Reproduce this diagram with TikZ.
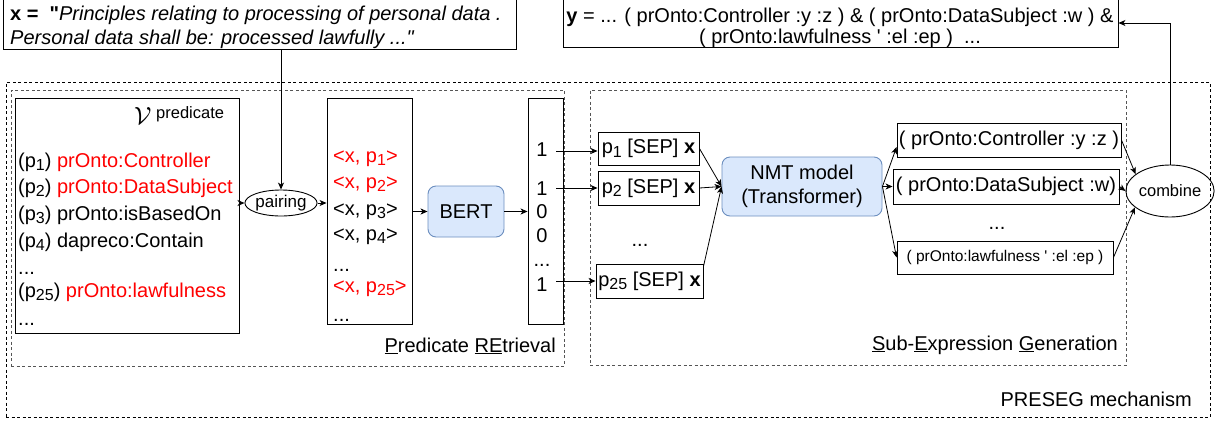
\documentclass[tikz,border=0pt]{standalone}
\usepackage{fontspec}
\setmainfont{Liberation Sans}
\usetikzlibrary{arrows.meta,shapes.geometric,calc}
\definecolor{nmtfill}{HTML}{DAE8FC}
\definecolor{nmtdraw}{HTML}{6C8EBF}
\definecolor{framegray}{HTML}{555555}
\newcommand{\psub}[1]{\raisebox{-3.5pt}{\fontsize{16}{18}\selectfont #1}}
\tikzset{
  ftw/.style={font=\fontsize{20}{24}\selectfont},
  txt/.style={ftw, inner sep=0pt, anchor=base west},
  txtc/.style={ftw, inner sep=0pt, anchor=base},
  txte/.style={ftw, inner sep=0pt, anchor=base east},
  box/.style={draw, line width=0.9pt, rectangle, inner sep=0pt, ftw},
  ell/.style={draw, line width=0.9pt, ellipse, inner sep=0pt},
  blue box/.style={draw=nmtdraw, fill=nmtfill, line width=0.9pt, rounded corners=8pt, inner sep=0pt, ftw, align=center},
  outer frame/.style={draw, line width=0.8pt, dash pattern=on 3pt off 2.5pt, inner sep=0pt},
  inner frame/.style={draw=framegray, line width=0.8pt, dash pattern=on 3pt off 2.5pt, inner sep=0pt},
  arr/.style={-{Stealth[length=7pt,width=6pt,inset=2pt]}, line width=0.8pt},
  red/.style={text=red}
}
\begin{document}
\begin{tikzpicture}[x=1pt,y=-1pt]
\useasboundingbox (0,0) rectangle (1218,421);
% frames
\node[outer frame, minimum width=1204pt, minimum height=335pt] (outer) at (608,249.5) {};
\node[inner frame, minimum width=553pt, minimum height=276pt] (leftframe) at (287.5,228) {};
\node[inner frame, minimum width=536pt, minimum height=275pt] (rightframe) at (858,227.5) {};
\node[txte] (prelab) at (556,352) {\underline{P}redicate \underline{RE}trieval};
\node[txte] (seglab) at (1118,350) {\underline{S}ub-\underline{E}xpression \underline{G}eneration};
\node[txte] (meclab) at (1192,406) {PRESEG mechanism};

% input x box
\node[box, minimum width=513pt, minimum height=50pt] (xbox) at (259.5,24) {};
\node[txt] (xl1) at (10,20) {\textbf{x =}\ \ \textbf{\textquotedbl}\textit{Principles relating to processing of personal data .}};
\node[txt] (xl2) at (10,44) {\textit{Personal data shall be: processed lawfully ...\textquotedbl}};

% output y box
\node[box, minimum width=555pt, minimum height=49pt] (ybox) at (840.5,23) {};
\node[txtc] (yl1) at (840,22) {\textbf{y} = ... ( prOnto:Controller :y :z ) \& ( prOnto:DataSubject :w ) \&};
\node[txtc] (yl2) at (840,43) {( prOnto:lawfulness \textquotesingle\ :el :ep )\ \ ...};

% predicate vocabulary box
\node[box, minimum width=224pt, minimum height=235pt] (pbox) at (127,215.5) {};
\node[inner sep=0pt, anchor=base west, font=\fontsize{24}{28}\selectfont] (vsym) at (134,124) {$\mathcal{V}$};
\node[inner sep=0pt, anchor=base west, font=\fontsize{16.5}{20}\selectfont] (vlab) at (156,118) {predicate};
\node[txt] (v1) at (18,167) {(p\psub{1}) \textcolor{red}{prOnto:Controller}};
\node[txt] (v2) at (18,193) {(p\psub{2}) \textcolor{red}{prOnto:DataSubject}};
\node[txt] (v3) at (18,220) {(p\psub{3}) prOnto:isBasedOn};
\node[txt] (v4) at (18,247) {(p\psub{4}) dapreco:Contain};
\node[txt] (v5) at (18,274) {...};
\node[txt] (v6) at (18,297) {(p\psub{25}) \textcolor{red}{prOnto:lawfulness}};
\node[txt] (v7) at (18,325) {...};

% pairing
\node[ell, minimum width=63pt, minimum height=26pt, font=\fontsize{17}{20}\selectfont] (pairing) at (281,203) {pairing};

% pairs box
\node[box, minimum width=85pt, minimum height=226pt] (pairs) at (369.5,211) {};
\node[txt, red] (q1) at (333,162) {<x, p\psub{1}>};
\node[txt, red] (q2) at (333,188) {<x, p\psub{2}>};
\node[txt] (q3) at (333,215) {<x, p\psub{3}>};
\node[txt] (q4) at (333,240) {<x, p\psub{4}>};
\node[txt] (q5) at (333,271) {...};
\node[txt, red] (q6) at (333,292) {<x, p\psub{25}>};
\node[txt] (q7) at (333,321) {...};

% BERT
\node[blue box, minimum width=76pt, minimum height=51pt] (bert) at (466,211.5) {BERT};

% score box
\node[box, minimum width=35pt, minimum height=226pt] (score) at (545.5,211) {};
\node[txtc] (n1) at (542,156) {1};
\node[txtc] (n2) at (542,195) {1};
\node[txtc] (n3) at (542,218) {0};
\node[txtc] (n4) at (542,242) {0};
\node[txtc] (n5) at (542,266) {...};
\node[txtc] (n6) at (542,291) {1};
\coordinate (s1) at (556,151);
\coordinate (s2) at (556,188);
\coordinate (s3) at (556,281);

% SEP boxes
\node[box, minimum width=101pt, minimum height=33pt] (sep1) at (648.5,148.5) {p\psub{1} [SEP] \textbf{x}};
\node[box, minimum width=101pt, minimum height=34pt] (sep2) at (648.5,188) {p\psub{2} [SEP] \textbf{x}};
\node[txtc] (sepdots) at (640,246) {...};
\node[box, minimum width=107pt, minimum height=34pt] (sep25) at (649.5,281) {p\psub{25} [SEP] \textbf{x}};

% NMT
\node[blue box, minimum width=160pt, minimum height=59pt] (nmt) at (802,186.5) {NMT model\\(Transformer)};

% output sub-expressions
\node[box, minimum width=224pt, minimum height=34pt] (o1) at (1009,140) {( prOnto:Controller :y :z )};
\node[box, minimum width=226pt, minimum height=35pt] (o2) at (1006,186.5) {( prOnto:DataSubject :w)};
\node[txtc] (odots) at (997,229) {...};
\node[box, minimum width=216pt, minimum height=33pt, font=\fontsize{15.5}{18}\selectfont] (o3) at (1005,257.5) {( prOnto:lawfulness \textquotesingle\ :el :ep )};

% combine
\node[ell, minimum width=81pt, minimum height=52pt, font=\fontsize{16.5}{20}\selectfont] (combine) at (1170,191) {combine};

% connectors
\draw[arr] (pbox.east |- pairing.west) -- (pairing.west);
\draw[arr] (xbox.south -| pairing.north) -- (pairing.north);
\draw[arr] (pairing.east) -- (pairs.west |- pairing.east);
\draw[arr] (pairs.east |- bert.west) -- (bert.west);
\draw[arr] (bert.east) -- (score.west |- bert.east);
\draw[arr] (s1) -- (sep1.west |- s1);
\draw[arr] (s2) -- (sep2.west |- s2);
\draw[arr] (s3) -- (sep25.west |- s3);
\draw[arr] (sep1.east) -- (nmt.west);
\draw[arr] (sep2.east) -- (nmt.west);
\draw[arr] ([yshift=-3pt]sep25.north east) -- (nmt.west);
\draw[arr] (nmt.east) -- ([yshift=-7pt]o1.west);
\draw[arr] (nmt.east) -- (o2.west);
\draw[arr] (nmt.east) -- (o3.west);
\draw[arr] (o1.east) -- (combine.154);
\draw[arr] (o2.east) -- (combine.west);
\draw[arr] (o3.east) -- (combine.205);
\draw[arr] (combine.north) |- (ybox.east);
\end{tikzpicture}
\end{document}
